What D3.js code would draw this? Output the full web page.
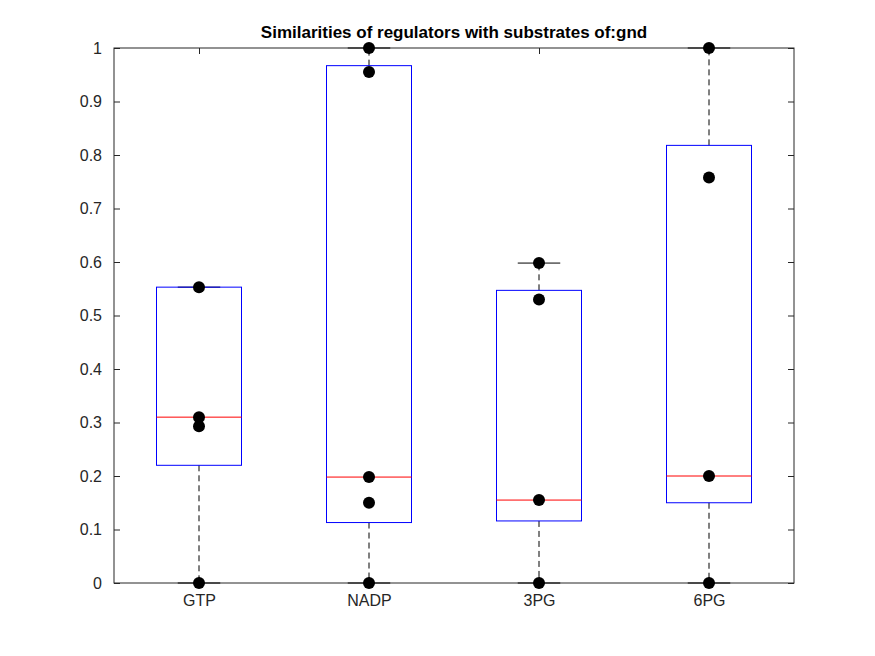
<!DOCTYPE html>
<html><head><meta charset="utf-8">
<script src="https://cdn.jsdelivr.net/npm/d3@7"></script>
<style>body{margin:0;background:#fff}text{font-family:"Liberation Sans",Arial,sans-serif}</style>
</head><body>
<script>
const width = 875, height = 656

const categories = ["GTP", "NADP", "3PG", "6PG"]
const q1 = [0.22, 0.113, 0.116, 0.15]
const medians = [0.31, 0.198, 0.155, 0.2]
const q3 = [0.553, 0.967, 0.547, 0.818]
const whiskLow = [0, 0, 0, 0]
const whiskHigh = [0.553, 1, 0.598, 1]
const points = [
    [0, 0.293, 0.31, 0.553],
    [0, 0.15, 0.198, 0.955, 1],
    [0, 0.155, 0.53, 0.598],
    [0, 0.2, 0.758, 1]
]
const yTicks = [0, 0.1, 0.2, 0.3, 0.4, 0.5, 0.6, 0.7, 0.8, 0.9, 1]

const mLeft = 114, mRight = 794, mTop = 48, mBottom = 583

let svg = d3.select("body").append("svg")
    .attr("width", width).attr("height", height)

const x = d3.scaleLinear().domain([0.5, 4.5]).range([mLeft, mRight])
const y = d3.scaleLinear().domain([0, 1]).range([mBottom, mTop])

// axes box
svg.append("rect").attr("x", mLeft).attr("y", mTop)
    .attr("width", mRight - mLeft).attr("height", mBottom - mTop)
    .attr("fill", "none").attr("stroke", "#262626")

let yl = svg.append("g").attr("transform", `translate(${mLeft},0)`)
    .call(d3.axisLeft(y).tickValues(yTicks).tickSize(-6).tickPadding(12).tickFormat(d3.format("~g")))
let yr = svg.append("g").attr("transform", `translate(${mRight},0)`)
    .call(d3.axisRight(y).tickValues(yTicks).tickSize(-6).tickFormat(""))
let xb = svg.append("g").attr("transform", `translate(0,${mBottom})`)
    .call(d3.axisBottom(x).tickValues([1, 2, 3, 4]).tickSize(-6).tickPadding(12).tickFormat((d) => categories[d - 1]))
let xt = svg.append("g").attr("transform", `translate(0,${mTop})`)
    .call(d3.axisTop(x).tickValues([1, 2, 3, 4]).tickSize(-6).tickFormat(""))
for (const a of [yl, yr, xb, xt]) {
    a.select(".domain").remove()
    a.selectAll("line").attr("stroke", "#262626")
    a.selectAll("text").attr("font-size", 16).attr("fill", "#262626")
}

categories.forEach((c, i) => {
    const cx = x(i + 1), bw = x(0.25) - x(0), cw = x(0.125) - x(0)
    let g = svg.append("g")
    g.append("line").attr("x1", cx).attr("x2", cx).attr("y1", y(q3[i])).attr("y2", y(whiskHigh[i]))
        .attr("stroke", "#000").attr("stroke-dasharray", "6,4")
    g.append("line").attr("x1", cx).attr("x2", cx).attr("y1", y(q1[i])).attr("y2", y(whiskLow[i]))
        .attr("stroke", "#000").attr("stroke-dasharray", "6,4")
    for (const v of [whiskLow[i], whiskHigh[i]])
        g.append("line").attr("x1", cx - cw).attr("x2", cx + cw).attr("y1", y(v)).attr("y2", y(v)).attr("stroke", "#000")
    g.append("rect").attr("x", cx - bw).attr("width", 2 * bw)
        .attr("y", y(q3[i])).attr("height", y(q1[i]) - y(q3[i]))
        .attr("fill", "none").attr("stroke", "#0000ff")
    g.append("line").attr("x1", cx - bw).attr("x2", cx + bw).attr("y1", y(medians[i])).attr("y2", y(medians[i]))
        .attr("stroke", "#ff0000")
    g.selectAll("circle").data(points[i]).join("circle")
        .attr("cx", cx).attr("cy", (d) => y(d)).attr("r", 6).attr("fill", "#000")
})

svg.append("text").attr("x", (mLeft + mRight) / 2).attr("y", 38)
    .attr("text-anchor", "middle").attr("font-size", 17).attr("font-weight", "bold")
    .text("Similarities of regulators with substrates of:gnd")
</script>
</body></html>
